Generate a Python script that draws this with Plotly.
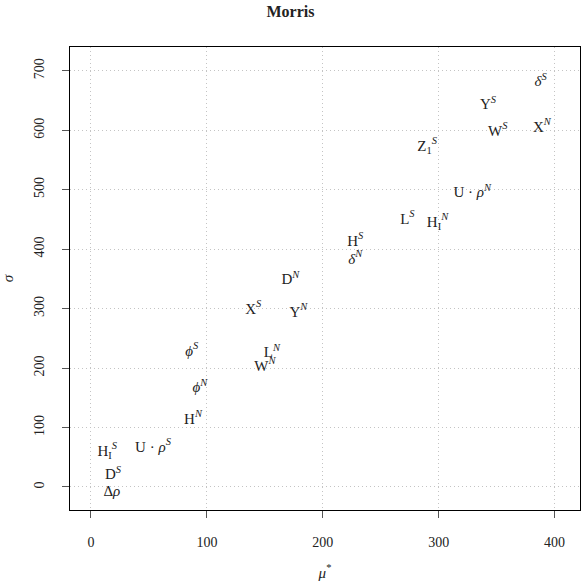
import plotly.graph_objects as go

labels = ["<i>δ</i><sup><i>S</i></sup>", "Y<sup><i>S</i></sup>", "W<sup><i>S</i></sup>", "X<sup><i>N</i></sup>",
          "Z<sub>1</sub><sup><i>S</i></sup>", "U · <i>ρ</i><sup><i>N</i></sup>", "L<sup><i>S</i></sup>",
          "H<sub>I</sub><sup><i>N</i></sup>", "H<sup><i>S</i></sup>", "<i>δ</i><sup><i>N</i></sup>",
          "D<sup><i>N</i></sup>", "X<sup><i>S</i></sup>", "Y<sup><i>N</i></sup>", "L<sup><i>N</i></sup>",
          "W<sup><i>N</i></sup>", "<i>ϕ</i><sup><i>S</i></sup>", "<i>ϕ</i><sup><i>N</i></sup>",
          "H<sup><i>N</i></sup>", "H<sub>I</sub><sup><i>S</i></sup>", "U · <i>ρ</i><sup><i>S</i></sup>",
          "D<sup><i>S</i></sup>", "Δ<i>ρ</i>"]
mu_star = [388, 342.5, 351, 389, 290, 329, 273, 299, 228, 228,
           172, 140, 179, 156, 150, 87, 94, 88, 14, 53.5, 19, 18]
sigma = [681, 642, 597, 604, 572, 494, 449, 444, 412, 382,
         348, 298, 293, 225, 202, 227, 166, 113, 59, 66, 20, -8]

x_ticks = [0, 100, 200, 300, 400]
y_ticks = [0, 100, 200, 300, 400, 500, 600, 700]

font_family = "Liberation Serif, DejaVu Serif, serif"

fig = go.Figure()
fig.add_trace(go.Scatter(
    x=mu_star, y=sigma, mode="text", text=labels,
    textposition="middle center",
    textfont=dict(family=font_family, size=15, color="#222222"),
    hoverinfo="skip", showlegend=False,
))

axis_common = dict(
    showline=True, linecolor="black", linewidth=1, mirror=True,
    ticks="outside", ticklen=7, tickcolor="#555555", tickwidth=1,
    showgrid=True, gridcolor="#c4c4c4", griddash="1px,3px", gridwidth=1,
    zeroline=False,
    tickfont=dict(family=font_family, size=14, color="#222222"),
)

fig.update_layout(
    width=581, height=582,
    margin=dict(l=70, r=1, t=47, b=72),
    paper_bgcolor="white", plot_bgcolor="white",
    title=dict(text="<b>Morris</b>", x=0.5, xanchor="center", y=0.981, yanchor="middle",
               font=dict(family=font_family, size=16, color="#222222")),
    xaxis=dict(range=[-18.1, 421.9], tickvals=x_ticks, ticklabelstandoff=12,
               title=dict(text="<i>μ</i><sup>*</sup>", standoff=18,
                          font=dict(family=font_family, size=15, color="#222222")),
               **axis_common),
    yaxis=dict(range=[-38.7, 740], tickvals=y_ticks, tickangle=-90, ticklabelstandoff=12,
               title=dict(text="<i>σ</i>", standoff=16,
                          font=dict(family=font_family, size=15, color="#222222")),
               **axis_common),
)

fig.write_html("out.html")
